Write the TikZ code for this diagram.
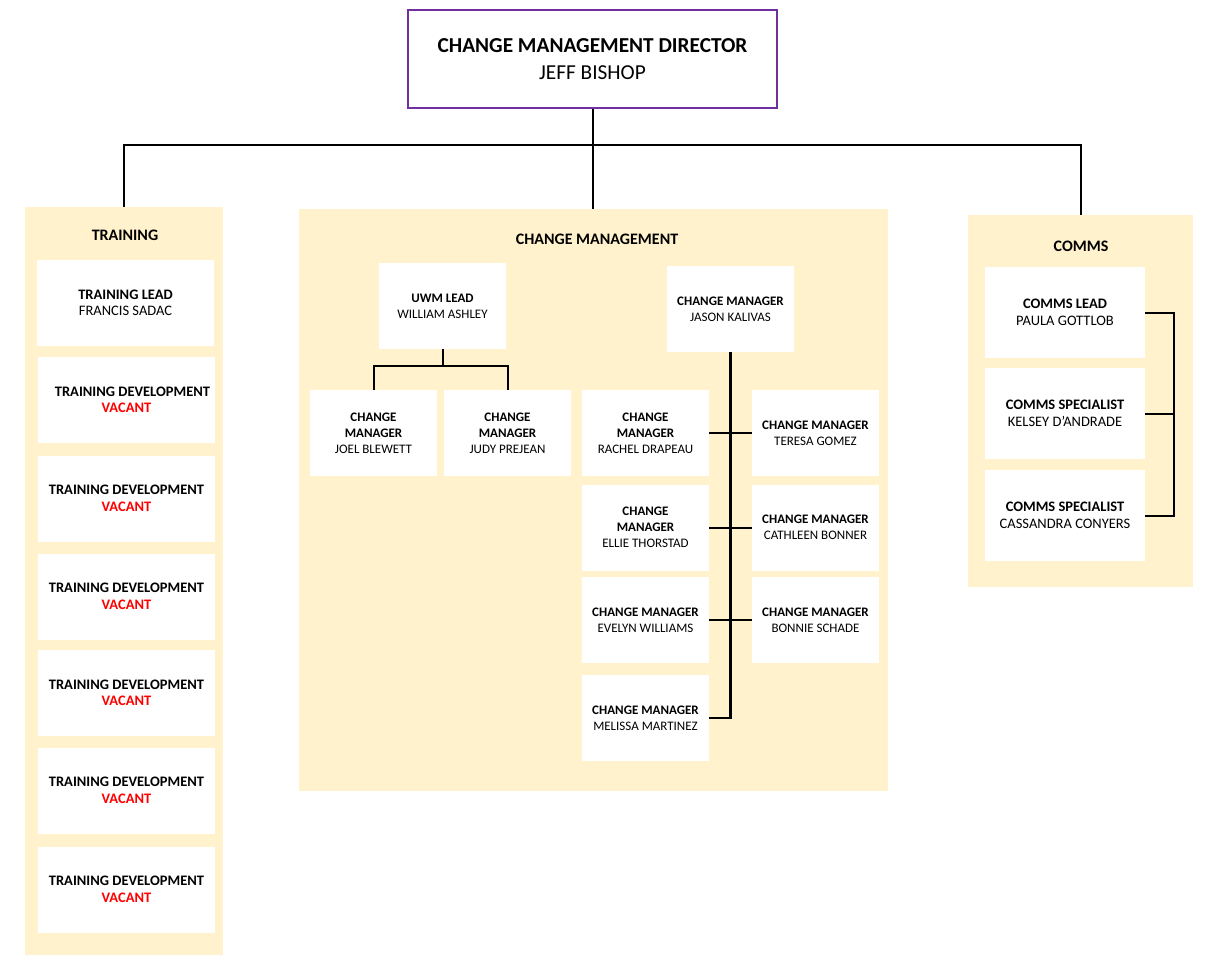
\documentclass[tikz,border=0pt]{standalone}
\usepackage{fontspec}
\setmainfont{Carlito}
\definecolor{panelfill}{HTML}{FFF2CC}
\definecolor{dirpurple}{HTML}{7030A0}
\definecolor{vacred}{HTML}{FF0000}
\tikzset{
  panel/.style={fill=panelfill, draw=none, inner sep=0pt},
  ptitle/.style={font=\fontsize{16}{19}\selectfont\bfseries, inner sep=0pt},
  box/.style={fill=white, draw=none, inner sep=0pt, align=center, font=\fontsize{13}{16}\selectfont},
  tbox/.style={box, minimum width=177, minimum height=86, font=\fontsize{14.5}{16.5}\selectfont},
  cbox/.style={box, minimum width=127, minimum height=86},
  mbox/.style={box, minimum width=160, minimum height=91, font=\fontsize{14.5}{16.5}\selectfont},
  conn/.style={draw=black, line width=2pt},
}
\newcommand{\vac}{\\\textcolor{vacred}{\bfseries VACANT}}
\begin{document}
\begin{tikzpicture}[x=1pt,y=-1pt]
\useasboundingbox (0,0) rectangle (1206,955);
\fill[white] (0,0) rectangle (1206,955);
% panels
\node[panel, minimum width=198, minimum height=748] (trainp) at (124,581) {};
\node[panel, minimum width=589, minimum height=582] (cmp) at (593.5,500) {};
\node[panel, minimum width=225, minimum height=372] (commsp) at (1080.5,401) {};
\node[ptitle] (traint) at (125,235) {TRAINING};
\node[ptitle] (cmt) at (597,239) {CHANGE MANAGEMENT};
\node[ptitle] (commst) at (1081,246) {COMMS};
% director
\node[draw=dirpurple, line width=2pt, fill=white, minimum width=369, minimum height=98, inner sep=0pt, align=center,
  font=\fontsize{21.3}{27}\selectfont] (dir) at (592.5,59) {\textbf{CHANGE MANAGEMENT DIRECTOR}\\JEFF BISHOP};
% training
\node[tbox] (tl) at (125.5,303) {\textbf{TRAINING LEAD}\\FRANCIS SADAC};
\node[tbox] (td1) at (126.5,400) {\hspace*{12pt}\textbf{TRAINING DEVELOPMENT}\vac};
\node[tbox] (td2) at (126.5,498.5) {\textbf{TRAINING DEVELOPMENT}\vac};
\node[tbox] (td3) at (126.5,596.5) {\textbf{TRAINING DEVELOPMENT}\vac};
\node[tbox] (td4) at (126.5,693) {\textbf{TRAINING DEVELOPMENT}\vac};
\node[tbox] (td5) at (126.5,790.5) {\textbf{TRAINING DEVELOPMENT}\vac};
\node[tbox] (td6) at (126.5,889.5) {\textbf{TRAINING DEVELOPMENT}\vac};
% change management
\node[cbox] (uwm) at (442.5,306) {\textbf{UWM LEAD}\\WILLIAM ASHLEY};
\node[cbox] (joel) at (373.5,433) {\textbf{CHANGE}\\\textbf{MANAGER}\\JOEL BLEWETT};
\node[cbox] (judy) at (507.5,433) {\textbf{CHANGE}\\\textbf{MANAGER}\\JUDY PREJEAN};
\node[cbox] (jason) at (730.5,309) {\textbf{CHANGE MANAGER}\\JASON KALIVAS};
\node[cbox] (rachel) at (645.5,433) {\textbf{CHANGE}\\\textbf{MANAGER}\\RACHEL DRAPEAU};
\node[cbox] (teresa) at (815.5,433) {\textbf{CHANGE MANAGER}\\TERESA GOMEZ};
\node[cbox] (ellie) at (645.5,527.5) {\textbf{CHANGE}\\\textbf{MANAGER}\\ELLIE THORSTAD};
\node[cbox] (cathleen) at (815.5,527.5) {\textbf{CHANGE MANAGER}\\CATHLEEN BONNER};
\node[cbox] (evelyn) at (645.5,620) {\textbf{CHANGE MANAGER}\\EVELYN WILLIAMS};
\node[cbox] (bonnie) at (815.5,620) {\textbf{CHANGE MANAGER}\\BONNIE SCHADE};
\node[cbox] (melissa) at (645.5,718) {\textbf{CHANGE MANAGER}\\MELISSA MARTINEZ};
% comms
\node[mbox] (cl) at (1065,312.5) {\textbf{COMMS LEAD}\\PAULA GOTTLOB};
\node[mbox] (cs1) at (1065,413.5) {\textbf{COMMS SPECIALIST}\\KELSEY D’ANDRADE};
\node[mbox] (cs2) at (1065,515.5) {\textbf{COMMS SPECIALIST}\\CASSANDRA CONYERS};
% connectors
\coordinate (bar) at (592.5,145);
\draw[conn] (dir.south) -- (dir.south |- cmp.north);
\draw[conn] (trainp.north) -- (trainp.north |- bar) -- (commsp.north |- bar) -- (commsp.north);
\draw[conn] (uwm.south) -- ++(0,17) -| (joel.north);
\draw[conn] (uwm.south) -- ++(0,17) -| (judy.north);
\draw[conn, line width=2.5pt] (jason.south) -- (jason.south |- melissa.east) -- (melissa.east);
\draw[conn] (rachel.east) -- (teresa.west);
\draw[conn] (ellie.east) -- (cathleen.west);
\draw[conn] (evelyn.east) -- (bonnie.west);
\draw[conn] (cl.east) -- ++(29,0) |- (cs2.east);
\draw[conn] (cs1.east) -- ++(29,0);
\end{tikzpicture}
\end{document}
